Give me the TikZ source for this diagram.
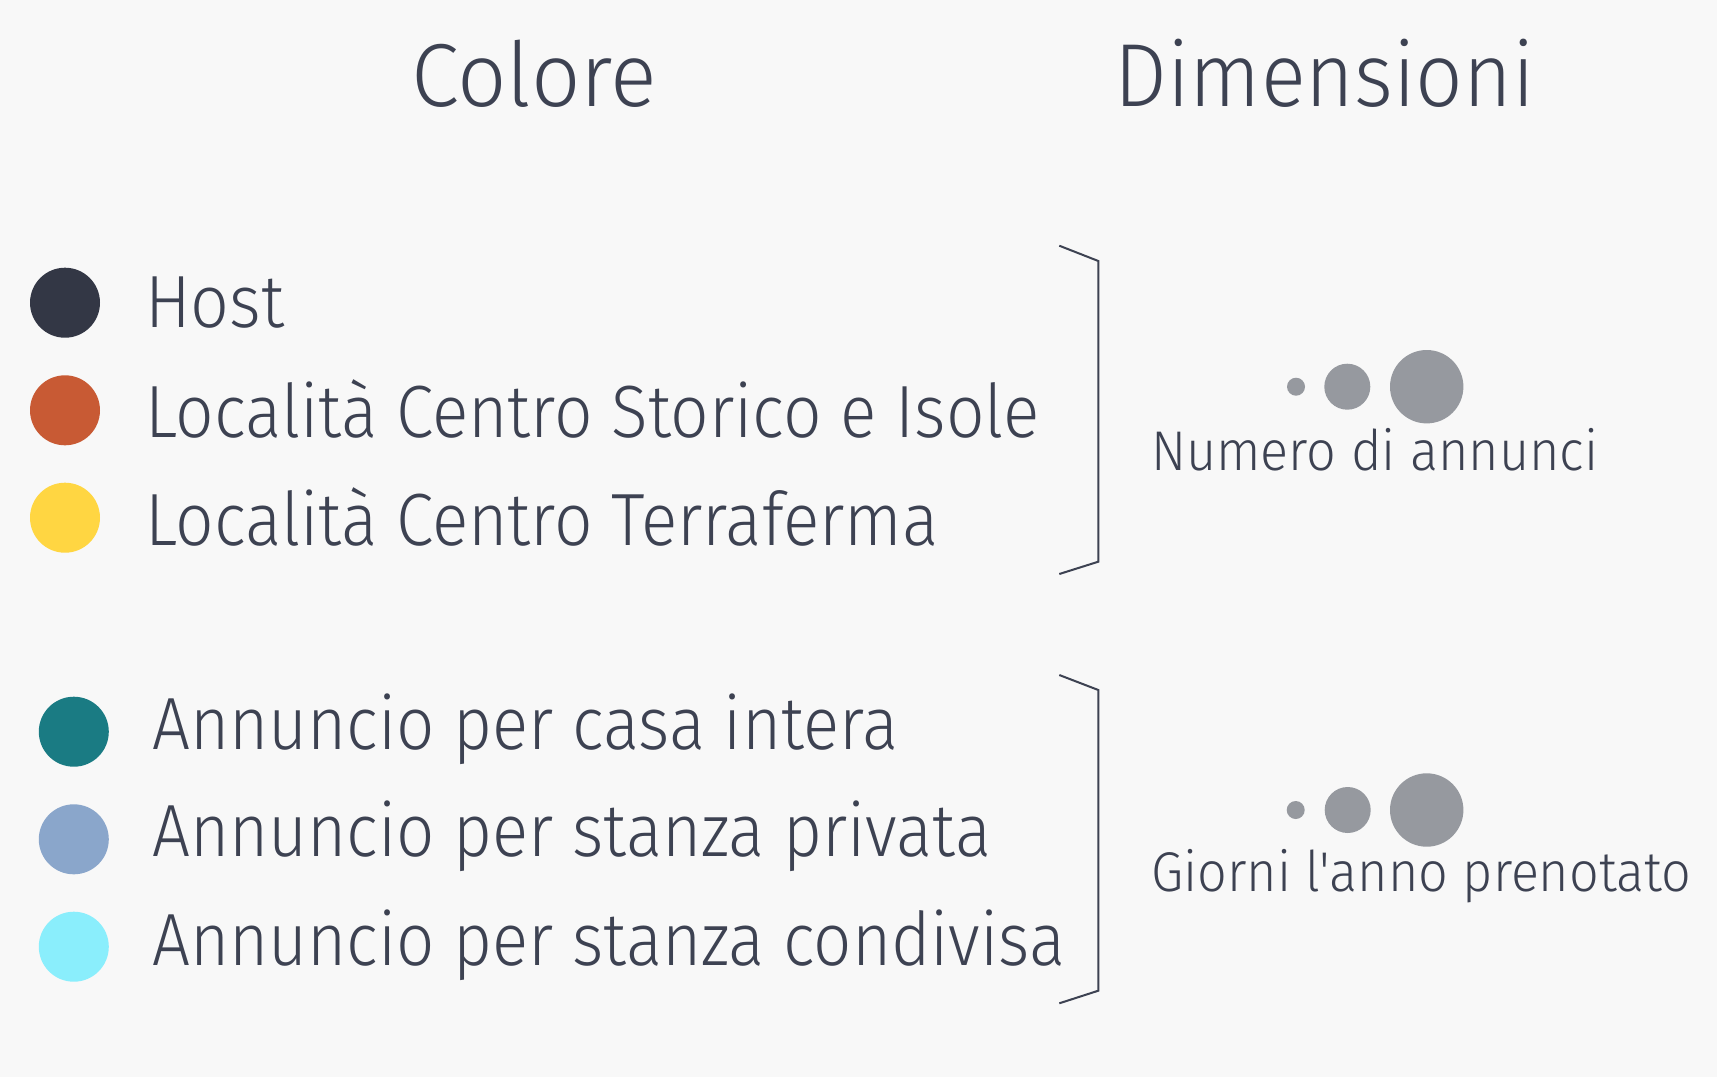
\documentclass[tikz,border=0pt]{standalone}
\usepackage{graphicx}
\usepackage{fontspec}
\setmainfont{Fira Sans Light}[Ligatures=TeXOff]
\definecolor{bg}{RGB}{248,248,248}
\definecolor{txt}{RGB}{61,66,82}
\definecolor{chost}{RGB}{51,55,69}
\definecolor{corange}{RGB}{200,90,52}
\definecolor{cyellow}{RGB}{255,214,66}
\definecolor{cteal}{RGB}{26,123,131}
\definecolor{cblue}{RGB}{138,166,203}
\definecolor{ccyan}{RGB}{138,238,252}
\definecolor{cgray}{RGB}{150,153,159}
\newcommand{\nx}[2]{\scalebox{#1}[1]{#2}}
\tikzset{
  lbl/.style={anchor=base west, inner sep=0pt, text=txt, font=\fontsize{74}{78}\selectfont},
  ttl/.style={anchor=base, inner sep=0pt, text=txt, font=\fontsize{89.5}{92}\selectfont},
  dimlbl/.style={anchor=base west, inner sep=0pt, text=txt, font=\fontsize{56}{60}\selectfont},
  dot/.style={circle, inner sep=0pt, minimum size=70pt, draw=none},
  gdot/.style={circle, inner sep=0pt, fill=cgray, draw=none},
  brk/.style={draw=txt, line width=2pt, line join=miter}
}
\begin{document}
\begin{tikzpicture}[x=1pt,y=-1pt]
\fill[bg] (0,0) rectangle (1717,1077);
\useasboundingbox (0,0) rectangle (1717,1077);
% titles
\node[ttl] (tcol) at (534,106.5) {\nx{0.97}{Colore}};
\node[ttl] (tdim) at (1324.7,106.5) {\nx{0.933}{Dimensioni}};
% colour legend, group 1
\node[dot, fill=chost] (d1) at (65,302.7) {};
\node[dot, fill=corange] (d2) at (65,410.3) {};
\node[dot, fill=cyellow] (d3) at (65,517.7) {};
\node[lbl] (l1) at (145,327.7) {\nx{0.92}{Host}};
\node[lbl] (l2) at (145,437.5) {\nx{0.914}{Località Centro Storico e Isole}};
\node[lbl] (l3) at (145,545) {\nx{0.914}{Località Centro Terraferma}};
% colour legend, group 2
\node[dot, fill=cteal] (d4) at (73.8,731.7) {};
\node[dot, fill=cblue] (d5) at (73.8,839.3) {};
\node[dot, fill=ccyan] (d6) at (73.8,946.7) {};
\node[lbl] (l4) at (152,749.3) {\nx{0.908}{Annuncio per casa intera}};
\node[lbl] (l5) at (152,856.7) {\nx{0.908}{Annuncio per stanza privata}};
\node[lbl] (l6) at (152,965) {\nx{0.908}{Annuncio per stanza condivisa}};
% brackets
\coordinate (b1a) at (1059.3,245.7);
\coordinate (b1b) at (1098.3,261);
\coordinate (b1c) at (1098.3,561.7);
\coordinate (b1d) at (1059.3,574);
\draw[brk] (b1a) -- (b1b) -- (b1c) -- (b1d);
\coordinate (b2a) at (1059.3,675);
\coordinate (b2b) at (1098.3,690);
\coordinate (b2c) at (1098.3,990.7);
\coordinate (b2d) at (1059.3,1003.3);
\draw[brk] (b2a) -- (b2b) -- (b2c) -- (b2d);
% size legend 1
\node[gdot, minimum size=18pt] (s1) at (1296,386.7) {};
\node[gdot, minimum size=46pt] (s2) at (1347.3,386.7) {};
\node[gdot, minimum size=73.4pt] (s3) at (1426.7,386.7) {};
\node[dimlbl] (n1) at (1151,470) {\nx{0.931}{Numero di annunci}};
% size legend 2
\node[gdot, minimum size=18pt] (s4) at (1295.7,810) {};
\node[gdot, minimum size=46pt] (s5) at (1347.7,810) {};
\node[gdot, minimum size=73.4pt] (s6) at (1426.7,810) {};
\node[dimlbl] (n2) at (1151,891.7) {\nx{0.931}{Giorni l'anno prenotato}};
\end{tikzpicture}
\end{document}
